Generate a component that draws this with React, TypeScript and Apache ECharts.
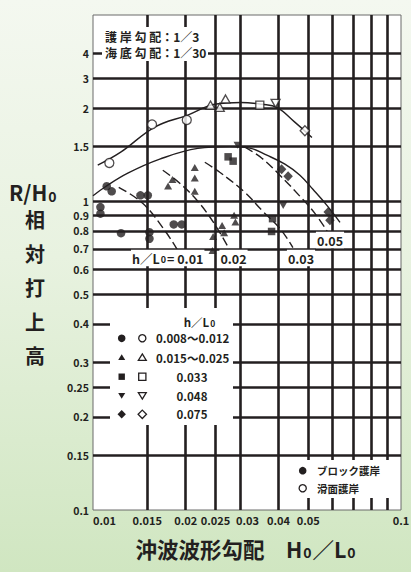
import React, { useEffect, useRef } from 'react';
import * as echarts from 'echarts';

// ---- axis ticks / grid lines (real values, log scale) ----
const xGridValues = [0.015, 0.02, 0.025, 0.03, 0.04, 0.05, 0.06, 0.07, 0.08, 0.09];
const xLabelValues = [0.01, 0.015, 0.02, 0.025, 0.03, 0.04, 0.05, 0.1];
const xLabelTexts = ['0.01', '0.015', '0.02', '0.025', '0.03', '0.04', '0.05', '0.1'];
const yGridValues = [0.15, 0.2, 0.25, 0.3, 0.4, 0.5, 0.6, 0.7, 0.8, 0.9, 1, 1.5, 2, 2.5, 3];
const yLabelValues = [0.1, 0.15, 0.2, 0.25, 0.3, 0.4, 0.5, 0.6, 0.7, 0.8, 0.9, 1, 1.5, 2, 2.5, 3];
const yLabelTexts = ['0.1', '0.15', '0.2', '0.25', '0.3', '0.4', '0.5', '0.6', '0.7', '0.8', '0.9', '1', '1.5', '2', '3', '4'];
const xRange = [0.01, 0.1];
const yRange = [0.1, 4];

// ---- measured points [H0/L0, R/H0] ----
const blockCircle = [[0.01108, 1.116], [0.0115, 1.075], [0.01426, 1.043], [0.01506, 1.043], [0.01057, 0.956], [0.01057, 0.91], [0.01233, 0.787], [0.01525, 0.793], [0.01525, 0.755], [0.01829, 0.84], [0.01942, 0.84]];
const smoothCircle = [[0.0113, 1.328], [0.01555, 1.77], [0.02016, 1.83]];
const blockTriangle = [[0.0214, 1.284], [0.0214, 1.188], [0.0214, 1.075], [0.01811, 1.173], [0.01753, 1.118], [0.02872, 0.899], [0.029, 0.855], [0.02625, 0.834], [0.02666, 0.79], [0.02455, 0.768], [0.02443, 0.691]];
const smoothTriangle = [[0.02407, 2.045], [0.0258, 2.01], [0.02693, 2.14]];
const blockSquare = [[0.02746, 1.39], [0.02851, 1.346], [0.03828, 0.877], [0.038, 0.797]];
const smoothSquare = [[0.0348, 2.045]];
const blockInvTriangle = [[0.02946, 1.516], [0.04145, 0.968]];
const smoothInvTriangle = [[0.03915, 2.07]];
const blockDiamond = [[0.04096, 1.267], [0.043, 1.203], [0.05803, 0.921], [0.05878, 0.866]];
const smoothDiamond = [[0.04875, 1.688]];

// ---- fitted curves ----
const smoothEnvelope = [[0.01036, 1.306], [0.0123, 1.439], [0.01587, 1.735], [0.02031, 1.898], [0.02486, 2.056], [0.0302, 2.084], [0.03534, 2.056], [0.03954, 2.01], [0.0452, 1.8], [0.05138, 1.606]];
const blockEnvelope = [[0.01, 1.04], [0.01091, 1.108], [0.01297, 1.23], [0.01647, 1.366], [0.02189, 1.48], [0.02782, 1.5], [0.0323, 1.483], [0.03668, 1.407], [0.04198, 1.316], [0.04697, 1.212], [0.05176, 1.091], [0.05747, 0.968], [0.06337, 0.853]];
const dashed001 = [[0.01212, 1.108], [0.0145, 0.983], [0.0171, 0.803], [0.01885, 0.692]];
const dashed002 = [[0.01685, 1.258], [0.01913, 1.142], [0.02189, 0.998], [0.02486, 0.84], [0.02782, 0.692]];
const dashed003 = [[0.02307, 1.335], [0.0258, 1.239], [0.03112, 1.067], [0.03534, 0.933], [0.04044, 0.815], [0.04457, 0.707]];
const dashed005 = [[0.03112, 1.494], [0.03534, 1.376], [0.04044, 1.212], [0.04697, 1.036], [0.05254, 0.912], [0.05791, 0.791]];

const legendRows = ['0.008～0.012', '0.015～0.025', '0.033', '0.048', '0.075'];

const INK = '#231f20';
const FONT = '"Noto Sans CJK JP", "Noto Sans", sans-serif';
const L = (v: number) => Math.log10(v);
const tr = (d: number[][]) => d.map(([x, y]) => [L(x), L(y)]);

const findLabel = (vals: number[], texts: string[], v: number) => {
  const i = vals.findIndex((t) => Math.abs(L(t) - v) < 1e-6);
  return i >= 0 ? texts[i] : '';
};

const txt = (x: number, y: number, text: string, size: number, align = 'left', extra: any = {}) => ({
  type: 'text', x, y, z: 100,
  style: { text, fill: INK, fontSize: size, fontWeight: 'bold', fontFamily: FONT, align, verticalAlign: 'middle', ...extra },
});
const subRich = (size: number, sub: number) => ({
  a: { fontSize: size, fontWeight: 'bold', fontFamily: FONT, fill: INK, color: INK },
  b: { fontSize: sub, fontWeight: 'bold', fontFamily: FONT, fill: INK, color: INK, verticalAlign: 'bottom', padding: [0, 1, 0, 1] },
});
const whiteRect = (x: number, y: number, w: number, h: number) => ({ type: 'rect', z: 99, shape: { x, y, width: w, height: h }, style: { fill: '#fff' } });
const openStyle = { fill: '#fff', stroke: INK, lineWidth: 1.3 };
const fillStyle = { fill: INK };
const glyph = (kind: string, cx: number, cy: number, filled: boolean) => {
  const st = filled ? fillStyle : openStyle;
  const s = filled ? 3.2 : 3.6;
  if (kind === 'circle') return { type: 'circle', z: 100, shape: { cx, cy, r: filled ? 3.8 : 3.6 }, style: st };
  if (kind === 'square') return { type: 'rect', z: 100, shape: { x: cx - s, y: cy - s, width: 2 * s, height: 2 * s }, style: st };
  if (kind === 'tri') return { type: 'polygon', z: 100, shape: { points: [[cx, cy - s], [cx + s * 1.1, cy + s * 0.8], [cx - s * 1.1, cy + s * 0.8]] }, style: st };
  if (kind === 'inv') return { type: 'polygon', z: 100, shape: { points: [[cx, cy + s], [cx + s * 1.1, cy - s * 0.8], [cx - s * 1.1, cy - s * 0.8]] }, style: st };
  return { type: 'polygon', z: 100, shape: { points: [[cx, cy - 4.2], [cx + 4.2, cy], [cx, cy + 4.2], [cx - 4.2, cy]] }, style: st };
};

export default function App() {
  const ref = useRef<HTMLDivElement>(null);
  useEffect(() => {
    if (!ref.current) return;
    const chart = echarts.init(ref.current, undefined, { renderer: 'svg' });

    const scatter = (name: string, data: number[][], symbol: string, size: any, filled: boolean, rotate = 0) => ({
      name, type: 'scatter', data: tr(data), symbol, symbolSize: size, symbolRotate: rotate, z: 4,
      itemStyle: filled ? { color: INK } : { color: '#fff', borderColor: INK, borderWidth: 1.3 },
      silent: true,
    });
    const curve = (name: string, data: number[][], dashed: boolean) => ({
      name, type: 'line', data: tr(data), smooth: 0.4, showSymbol: false, symbol: 'none', z: 3, silent: true,
      lineStyle: { color: INK, width: 1.4, type: dashed ? [9, 4] : 'solid' },
    });

    const legendKinds = ['circle', 'tri', 'square', 'inv', 'diamond'];
    const legendY = [338.3, 357.5, 376.7, 395.5, 414.3];
    const graphics: any[] = [
      // annotation top-left
      whiteRect(102, 27, 106, 34),
      txt(105, 36, '護 岸 勾 配：1／3', 12),
      txt(105, 52.5, '海 底 勾 配：1／30', 12),
      // h/L0 labels
      { type: 'text', x: 131, y: 258, z: 100, style: { text: '{a|h／L}{b|0}{a|= 0.01}', rich: subRich(12.5, 9), backgroundColor: '#fff', padding: [2, 1, 2, 1], verticalAlign: 'middle' } },
      txt(233.5, 258, '0.02', 12.5, 'center', { backgroundColor: '#fff', padding: [2, 1, 2, 1] }),
      txt(301, 258, '0.03', 12.5, 'center', { backgroundColor: '#fff', padding: [2, 1, 2, 1] }),
      txt(330, 240, '0.05', 12.5, 'center', { backgroundColor: '#fff', padding: [2, 1, 2, 1] }),
      // middle legend
      whiteRect(110, 308, 123, 117),
      { type: 'text', x: 200, y: 321.5, z: 100, style: { text: '{a|h／L}{b|0}', rich: subRich(11.5, 8.5), align: 'center', verticalAlign: 'middle' } },
      // bottom-right legend
      whiteRect(293, 460, 100, 38),
      glyph('circle', 302.7, 470.7, true),
      glyph('circle', 302.7, 488.3, false),
      txt(317, 470.7, 'ブロック護岸', 10.5),
      txt(317, 488.3, '滑面護岸', 10.5),
      // axis titles
      { type: 'text', x: 9, y: 192, z: 100, style: { text: '{a|R/H}{b|0}', rich: subRich(21, 14), verticalAlign: 'middle' } },
      { type: 'text', x: 35, y: 203, z: 100, style: { text: '相\n対\n打\n上\n高', fill: INK, fontSize: 20, fontWeight: 'bold', fontFamily: FONT, align: 'center', verticalAlign: 'top', lineHeight: 33.8 } },
      { type: 'text', x: 246, y: 548, z: 100, style: { text: '{a|沖波波形勾配　H}{b|0}{a|／L}{b|0}', rich: subRich(21.5, 14), align: 'center', verticalAlign: 'middle' } },
    ];
    legendRows.forEach((t, i) => {
      graphics.push(glyph(legendKinds[i], 121.7, legendY[i], true));
      graphics.push(glyph(legendKinds[i], 142.3, legendY[i], false));
      if (i < 2) graphics.push(txt(156, legendY[i], t, 11.5));
      else graphics.push(txt(192, legendY[i], t, 11.5, 'center'));
    });

    const labelBase = { color: INK, fontSize: 10.5, fontWeight: 'bold', fontFamily: FONT, lineHeight: 12 };

    chart.setOption({
      animation: false,
      grid: { left: 93, top: 15, right: 10, bottom: 62, show: true, backgroundColor: '#fff', borderColor: '#6b6b6b', borderWidth: 1, containLabel: false, outerBoundsMode: 'none' },
      xAxis: {
        type: 'value', min: L(xRange[0]), max: L(xRange[1]),
        axisLine: { show: false },
        axisTick: { show: false, customValues: xGridValues.map(L) },
        splitLine: { show: true, lineStyle: { color: INK, width: 2.6 } },
        axisLabel: {
          ...labelBase, fontSize: 11, margin: 4, customValues: xLabelValues.map(L),
          alignMinLabel: 'left',
          formatter: (v: number) => {
            const s = findLabel(xLabelValues, xLabelTexts, v);
            return s === '0.03' ? '{s|0.03}' : s;
          },
          rich: { s: { ...labelBase, fontSize: 11, padding: [0, 0, 0, 15] } },
        },
      },
      yAxis: {
        type: 'value', min: L(yRange[0]), max: L(yRange[1]),
        axisLine: { show: false },
        axisTick: { show: false, customValues: yGridValues.map(L) },
        splitLine: { show: true, lineStyle: { color: INK, width: 2.6 } },
        axisLabel: {
          ...labelBase, margin: 4, customValues: yLabelValues.map(L),
          formatter: (v: number) => findLabel(yLabelValues, yLabelTexts, v),
        },
      },
      series: [
        curve('滑面護岸 包絡線', smoothEnvelope, false),
        curve('ブロック護岸 包絡線', blockEnvelope, false),
        curve('h/L0=0.01', dashed001, true),
        curve('h/L0=0.02', dashed002, true),
        curve('h/L0=0.03', dashed003, true),
        curve('h/L0=0.05', dashed005, true),
        scatter('ブロック護岸 0.008～0.012', blockCircle, 'circle', 8.5, true),
        scatter('滑面護岸 0.008～0.012', smoothCircle, 'circle', 9, false),
        scatter('ブロック護岸 0.015～0.025', blockTriangle, 'triangle', [8, 7], true),
        scatter('滑面護岸 0.015～0.025', smoothTriangle, 'triangle', [9, 8], false),
        scatter('ブロック護岸 0.033', blockSquare, 'rect', 7.5, true),
        scatter('滑面護岸 0.033', smoothSquare, 'rect', 8, false),
        scatter('ブロック護岸 0.048', blockInvTriangle, 'triangle', [8, 7], true, 180),
        scatter('滑面護岸 0.048', smoothInvTriangle, 'triangle', [9, 8], false, 180),
        scatter('ブロック護岸 0.075', blockDiamond, 'diamond', [9.5, 10], true),
        scatter('滑面護岸 0.075', smoothDiamond, 'diamond', [9.5, 10], false),
      ],
      graphic: { elements: graphics },
    });
    return () => chart.dispose();
  }, []);

  return (
    <div
      ref={ref}
      style={{
        position: 'fixed', left: 0, top: 0, width: 411, height: 572,
        background: 'linear-gradient(to bottom, #f4f8f0 0%, #e8f2e0 45%, #d0e6c1 100%)',
      }}
    />
  );
}
